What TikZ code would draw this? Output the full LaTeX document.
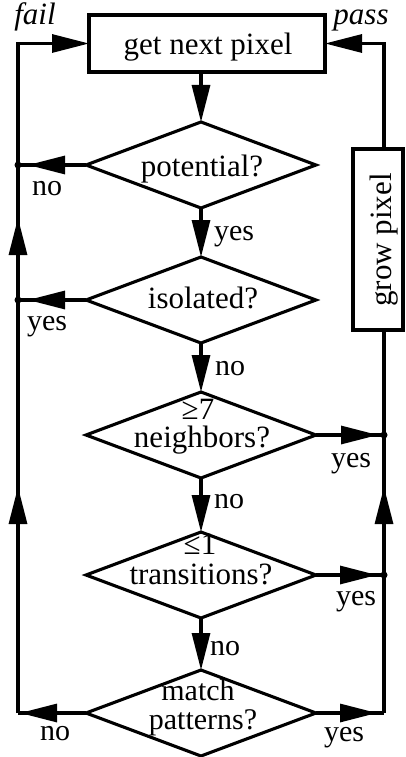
\documentclass[tikz,border=0pt]{standalone}
\usepackage{fontspec}
\setmainfont{Liberation Serif}
\usetikzlibrary{shapes.geometric, arrows.meta, decorations.markings}

\begin{document}
\begin{tikzpicture}[x=1pt, y=-1pt,
  >={Triangle[length=37pt, width=18pt]},
  wire/.style={line width=3.1pt},
  decision/.style={diamond, draw, line width=3.1pt, minimum width=230pt,
    minimum height=86pt, inner sep=0pt, outer sep=0pt},
  stepbox/.style={rectangle, draw, line width=3.1pt, inner sep=0pt, outer sep=0pt},
  txt/.style={font=\fontsize{31}{31}\selectfont, anchor=base, inner sep=0pt},
  lbl/.style={font=\fontsize{30}{30}\selectfont, anchor=base, inner sep=0pt},
  tipat/.style={postaction={decorate, decoration={markings,
    mark=at position #1 with {\arrow{>}}}}},
  joint/.style={circle, fill, inner sep=0pt, minimum size=7pt},
]
\useasboundingbox (0,0) rectangle (405,757);

% boxes and decisions
\node[stepbox, minimum width=236pt, minimum height=57pt] (next) at (207,43.5) {};
\node[stepbox, minimum width=50pt, minimum height=181pt] (grow) at (378,239.5) {};
\node[decision] (pot) at (201,165) {};
\node[decision] (iso) at (201,300) {};
\node[decision] (nb)  at (201,435) {};
\node[decision] (tr)  at (201,575) {};
\node[decision] (mp)  at (201,713) {};

% texts inside the shapes
\node[txt] (tnext) at (208,55) {get next pixel};
\node[txt, rotate=90, anchor=center] (tgrow) at (384,240) {grow pixel};
\node[txt] (tpot) at (202,176) {potential?};
\node[txt] (tiso) at (203,308) {isolated?};
\node[txt] (tnbA) at (198,419) {≥7};
\node[txt] (tnbB) at (202,447) {neighbors?};
\node[txt] (ttrA) at (200,554) {≤1};
\node[txt] (ttrB) at (201,584) {transitions?};
\node[txt, font=\fontsize{30}{30}\selectfont] (tmpA) at (198,700) {match};
\node[txt, font=\fontsize{30}{30}\selectfont] (tmpB) at (203,729) {patterns?};

% junction points on the two return lines
\coordinate (ltop) at (18,43.5);
\coordinate (rtop) at (384,43.5);
\coordinate (lc) at (18,713);
\coordinate (rc) at (384,713);
\node[joint] (j1) at (18,165) {};
\node[joint] (j2) at (18,300) {};
\node[joint] (j3) at (384,435) {};
\node[joint] (j4) at (384,575) {};

% main column
\draw[wire, ->] (pot.north |- next.south) -- (pot.north);
\draw[wire, ->] (pot.south) -- (iso.north);
\draw[wire, ->] (iso.south) -- (nb.north);
\draw[wire, ->] (nb.south) -- (tr.north);
\draw[wire, ->] (tr.south) -- (mp.north);

% fail side
\draw[wire, tipat=-10pt] (pot.west) -- (j1.center);
\draw[wire, tipat=-10pt] (iso.west) -- (j2.center);
\draw[wire, tipat=-2pt] (mp.west) -- (lc);
\draw[wire, tipat=226pt, tipat=495pt, ->] (lc) -- (ltop) -- (next.west);

% pass side
\draw[wire, tipat=-6pt] (nb.east) -- (j3.center);
\draw[wire, tipat=-7pt] (tr.east) -- (j4.center);
\draw[wire, tipat=-7pt] (mp.east) -- (rc);
\draw[wire, tipat=226pt] (rc) -- (rc |- grow.south);
\draw[wire, ->] (rc |- grow.north) -- (rtop) -- (next.east);

% branch labels
\node[lbl] (no1) at (47,195) {no};
\node[lbl] (yes1) at (234,240) {yes};
\node[lbl] (yes2) at (47,330) {yes};
\node[lbl] (no2) at (230,375) {no};
\node[lbl] (yes3) at (351,467) {yes};
\node[lbl] (no3) at (229,508) {no};
\node[lbl] (yes4) at (356,605) {yes};
\node[lbl] (no4) at (225,655) {no};
\node[lbl] (no5) at (55,740) {no};
\node[lbl] (yes5) at (344,741) {yes};
\node[lbl, font=\fontsize{31}{31}\selectfont\itshape] (fail) at (35,25) {fail};
\node[lbl, font=\fontsize{31}{31}\selectfont\itshape] (pass) at (361,25) {pass};
\end{tikzpicture}
\end{document}
